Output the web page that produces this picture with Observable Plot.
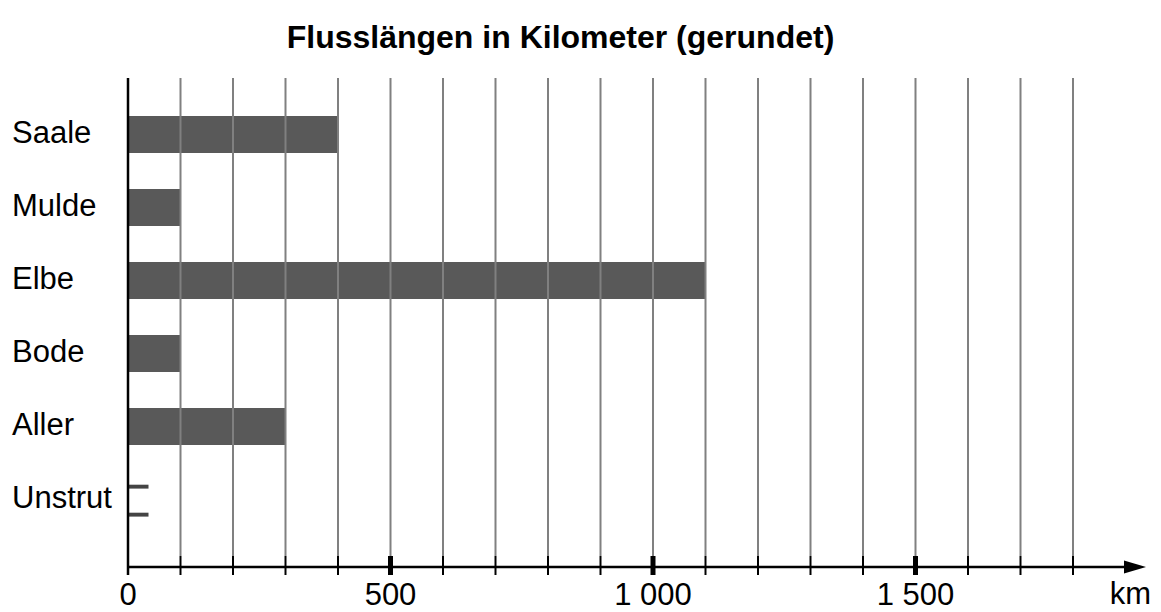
<!DOCTYPE html>
<html>
<head>
<meta charset="utf-8">
<script src="https://cdn.jsdelivr.net/npm/d3@7"></script>
<script src="https://cdn.jsdelivr.net/npm/@observablehq/plot@0.6"></script>
<style>
  html, body { margin: 0; padding: 0; background: #fff; }
</style>
</head>
<body>
<div id="chart"></div>
<script>
// ---- data ----
const title = "Flusslängen in Kilometer (gerundet)";
const rivers = ["Saale", "Mulde", "Elbe", "Bode", "Aller", "Unstrut"];
const lengths = [400, 100, 1100, 100, 300, null]; // Unstrut: bar left unfinished
const unstrutStub = 40;                            // drawn stub of the unfinished bar
const gridTicks = [100, 200, 300, 400, 500, 600, 700, 800, 900, 1000, 1100, 1200, 1300, 1400, 1500, 1600, 1700, 1800];
const majorTicks = [500, 1000, 1500];
const labelTicks = [0, 500, 1000, 1500];
const unitLabel = "km";
const axisEnd = 1940;

const data = rivers.map((r, i) => ({river: r, km: lengths[i]})).filter(d => d.km != null);
const fmt = d3.formatLocale({decimal: ",", thousands: " ", grouping: [3], currency: ["", ""]}).format(",");

const W = 1161, H = 612;
const font = "'Liberation Sans', Arial, sans-serif";

const arrowAxis = (index, scales, values, dims) => {
  const x = scales.x;
  const y0 = dims.height - dims.marginBottom;
  const g = d3.create("svg:g");
  const xa = x(0), xb = x(axisEnd);
  g.append("line").attr("x1", xa).attr("x2", xb - 12).attr("y1", y0).attr("y2", y0)
    .attr("stroke", "black").attr("stroke-width", 2.5);
  g.append("path").attr("d", `M${xb},${y0} l-22,-6.5 v13 z`).attr("fill", "black");
  g.append("text").attr("x", xb + 5).attr("y", y0 + 37).attr("text-anchor", "end")
    .attr("font-size", 31).attr("fill", "black").text(unitLabel);
  return g.node();
};

const chart = Plot.plot({
  width: W,
  height: H,
  marginTop: 78,
  marginBottom: 45,
  marginLeft: 127.5,
  marginRight: 20,
  style: {fontFamily: font, background: "#fff", color: "black"},
  x: {domain: [0, 1000], range: [127.5, 652.5], axis: null},
  y: {domain: rivers, range: [97, 537], paddingInner: 0.5, paddingOuter: 0.25, axis: null},
  marks: [
    Plot.barX(data, {x1: 0, x2: "km", y: "river", fill: "#595959"}),
    Plot.barX([rivers[5]], {x1: 0, x2: unstrutStub, y: d => d, fill: "#444", insetTop: 3.7, insetBottom: 29.4}),
    Plot.barX([rivers[5]], {x1: 0, x2: unstrutStub, y: d => d, fill: "#444", insetTop: 31.7, insetBottom: 1.4}),
    Plot.ruleX(gridTicks, {stroke: "#808080", strokeWidth: 2, insetBottom: 11}),
    Plot.ruleX(gridTicks, {stroke: "black", strokeWidth: 2, insetTop: 478, insetBottom: -8}),
    Plot.ruleX(majorTicks, {stroke: "black", strokeWidth: 5, insetTop: 478, insetBottom: -8}),
    Plot.ruleX([0], {stroke: "black", strokeWidth: 2.5, insetBottom: -8}),
    arrowAxis,
    Plot.text(labelTicks, {x: d => d, frameAnchor: "bottom", text: d => fmt(d), lineAnchor: "bottom", dy: 37, fontSize: 31, fill: "black"}),
    Plot.text(rivers, {x: () => 0, y: d => d, text: d => d, textAnchor: "start", dx: -116, dy: -2, fontSize: 31, fill: "black"}),
    Plot.text([title], {frameAnchor: "top-left", dx: 432.5, dy: -53, textAnchor: "middle", fontSize: 32, fontWeight: "bold", fill: "black"})
  ]
});
document.getElementById("chart").appendChild(chart);
</script>
</body>
</html>
